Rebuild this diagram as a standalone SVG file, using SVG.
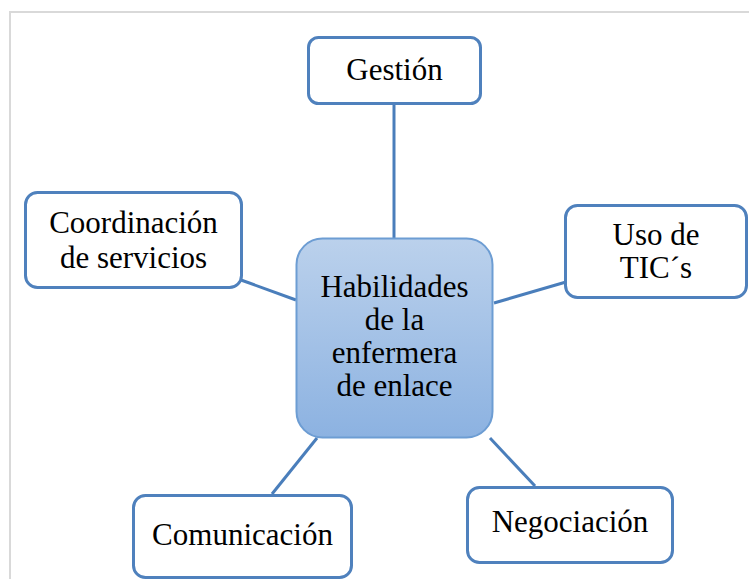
<svg xmlns="http://www.w3.org/2000/svg" width="749" height="579" viewBox="0 0 749 579">
<style>
.box{fill:#ffffff;stroke:#4f81bd;stroke-width:3}
.lbl{font-family:"Liberation Serif","Times New Roman",serif;font-size:31px;fill:#000;text-anchor:middle}
.con{stroke:#4a7ebb;stroke-width:3;fill:none}
</style>
<defs>
<linearGradient id="g" x1="0" y1="0" x2="0" y2="1">
<stop offset="0" stop-color="#bbd1ec"/>
<stop offset="1" stop-color="#8cb2e1"/>
</linearGradient>
</defs>
<rect x="0" y="0" width="749" height="579" fill="#ffffff"/>
<rect x="10" y="12" width="760" height="600" fill="none" stroke="#d9d9d9" stroke-width="2"/>
<g id="connectors">
<line class="con" x1="394" y1="104" x2="394" y2="238"/>
<line class="con" x1="241" y1="280" x2="296" y2="300"/>
<line class="con" x1="494" y1="303" x2="566" y2="282"/>
<line class="con" x1="317" y1="438" x2="272" y2="494"/>
<line class="con" x1="490" y1="438" x2="535" y2="486"/>
</g>
<g id="center">
<rect x="296.5" y="238.5" width="196" height="199" rx="26" fill="url(#g)" stroke="#6d9dd3" stroke-width="2"/>
<text class="lbl" x="394.5" y="297">Habilidades</text>
<text class="lbl" x="394.5" y="330">de la</text>
<text class="lbl" x="394.5" y="363">enfermera</text>
<text class="lbl" x="394.5" y="396">de enlace</text>
</g>
<g id="gestion">
<rect class="box" x="308.5" y="37.5" width="172" height="66" rx="10"/>
<text class="lbl" x="394.5" y="80">Gestión</text>
</g>
<g id="coordinacion">
<rect class="box" x="25.5" y="192.5" width="216" height="95" rx="12"/>
<text class="lbl" x="133.5" y="233">Coordinación</text>
<text class="lbl" x="133.5" y="268">de servicios</text>
</g>
<g id="tic">
<rect class="box" x="565.5" y="205.5" width="181" height="92" rx="12"/>
<text class="lbl" x="656" y="245">Uso de</text>
<text class="lbl" x="656" y="278">TIC´s</text>
</g>
<g id="comunicacion">
<rect class="box" x="133.5" y="495.5" width="218" height="82" rx="12"/>
<text class="lbl" x="242.5" y="545">Comunicación</text>
</g>
<g id="negociacion">
<rect class="box" x="467.5" y="487.5" width="205" height="75" rx="12"/>
<text class="lbl" x="570" y="532">Negociación</text>
</g>
</svg>
